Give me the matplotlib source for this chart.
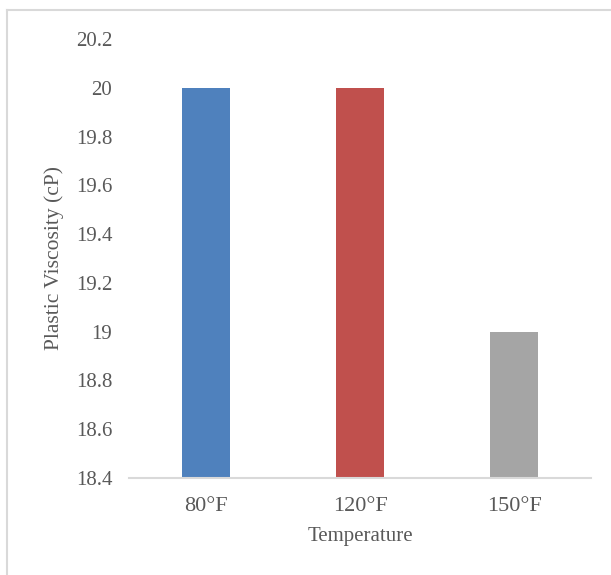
import matplotlib

matplotlib.use("Agg")

from matplotlib import pyplot as plt
from matplotlib.lines import Line2D

categories = ["80°F", "120°F", "150°F"]
viscosity = [20.0, 20.0, 19.0]
bar_colors = ["#4F81BD", "#C0504D", "#A5A5A5"]
y_ticks = [18.4, 18.6, 18.8, 19.0, 19.2, 19.4, 19.6, 19.8, 20.0, 20.2]
y_tick_labels = ["18.4", "18.6", "18.8", "19", "19.2", "19.4", "19.6", "19.8", "20", "20.2"]

plt.rcParams["font.family"] = ["Liberation Serif", "DejaVu Serif"]
text_color = "#595959"

fig = plt.figure(figsize=(6.11, 5.75), dpi=100)
ax = fig.add_axes([0.2111, 0.1687, 0.9673 - 0.2111, 0.9322 - 0.1687])

x = range(len(categories))
ax.bar(x, viscosity, width=0.31, color=bar_colors, zorder=2)

ax.set_xlim(-0.5, 2.5)
ax.set_ylim(18.4, 20.2)
ax.set_yticks(y_ticks)
ax.set_yticklabels(y_tick_labels)
ax.set_xticks(list(x))
ax.set_xticklabels(categories)

for side in ["top", "right", "left"]:
    ax.spines[side].set_visible(False)
ax.spines["bottom"].set_color("#D9D9D9")
ax.spines["bottom"].set_linewidth(1.5)

ax.tick_params(axis="y", length=0, pad=12, labelsize=15, labelcolor=text_color)
ax.tick_params(axis="x", length=0, pad=14, labelsize=16, labelcolor=text_color)

ax.set_xlabel("Temperature", fontsize=15, color=text_color, va="center")
ax.set_ylabel("Plastic Viscosity (cP)", fontsize=15.5, color=text_color, va="center")
ax.xaxis.set_label_coords(0.5, (478 - 537) / 439)
ax.yaxis.set_label_coords((54 - 129) / 462, 0.5)

# chart area border (left and top visible in the crop)
border = "#D9D9D9"
fig.add_artist(Line2D([7 / 611, 7 / 611], [0, 1 - 10 / 575], color=border, linewidth=1.5, transform=fig.transFigure))
fig.add_artist(Line2D([7 / 611, 1], [1 - 10 / 575, 1 - 10 / 575], color=border, linewidth=1.5, transform=fig.transFigure))

fig.savefig("out.png", dpi=100)
plt.close(fig)
